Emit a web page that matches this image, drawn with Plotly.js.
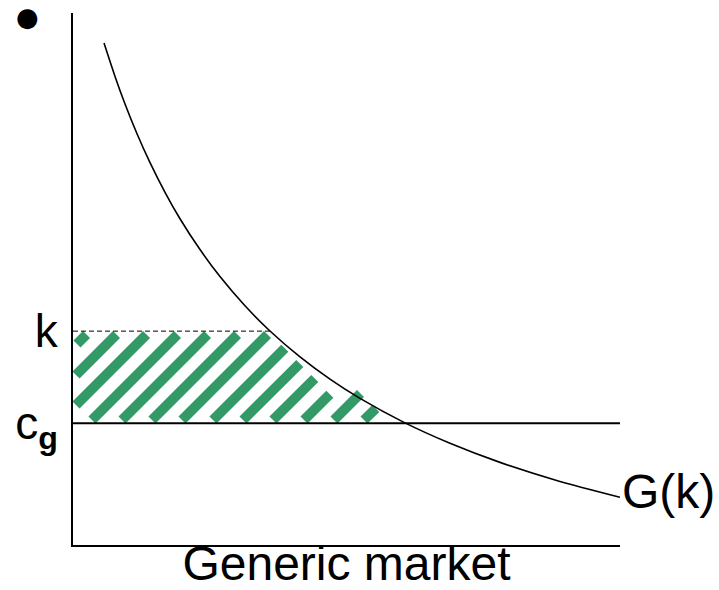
<!DOCTYPE html>
<html>
<head>
<meta charset="utf-8">
<script src="https://cdn.plot.ly/plotly-3.0.1.min.js"></script>
<style>html,body{margin:0;padding:0;background:#fff;}#chart{width:719px;height:590px;}</style>
</head>
<body>
<div id="chart"></div>
<script>
// G(k) curve (x: share of generic market axis, y: price level)
const curveX = [5.67, 7.68, 9.51, 11.70, 14.08, 16.82, 19.56, 23.22, 26.87, 31.44, 36.01, 41.50, 46.98, 52.47, 60.51, 68.92, 78.06, 89.03, 100];
const curveY = [94.36, 88.08, 82.91, 77.31, 71.88, 66.30, 61.33, 55.53, 50.45, 44.96, 40.23, 35.36, 31.18, 27.56, 23.05, 19.12, 15.53, 11.95, 8.98];

// price levels
const kLevel = 40.2;
const cgLevel = 22.9;
const kMeetsCurveX = 36.0;

// hatch stripes (start and end of each stripe)
const stripeX0 = [0.73, 0.55, 0.55, 3.47, 8.96, 14.44, 19.93, 25.59, 31.08, 36.56, 42.23, 47.71, 53.20];
const stripeY0 = [37.78, 31.95, 26.32, 23.50, 23.50, 23.50, 23.50, 23.50, 23.50, 23.50, 23.50, 23.50, 23.50];
const stripeX1 = [2.47, 7.95, 13.44, 19.10, 24.59, 30.07, 35.56, 38.72, 41.46, 44.20, 46.95, 52.56, 55.36];
const stripeY1 = [39.57, 39.57, 39.57, 39.57, 39.57, 39.57, 39.57, 36.99, 34.12, 31.30, 28.35, 28.48, 25.66];

// labels
const yTickVals = [cgLevel, kLevel];
const yTickText = ['c<sub><b>g</b></sub>', 'k'];
const xTitle = 'Generic market';
const curveLabel = 'G(k)';
const bulletText = '●';

const FONT = 'Liberation Sans, Arial, Helvetica, sans-serif';
const GREEN = 'rgb(51,153,102)';

const traces = [];
for (let i = 0; i < stripeX0.length; i++) {
  traces.push({
    type: 'scatter', mode: 'lines',
    x: [stripeX0[i], stripeX1[i]], y: [stripeY0[i], stripeY1[i]],
    line: {color: GREEN, width: 10}, hoverinfo: 'skip'
  });
}
traces.push({type: 'scatter', mode: 'lines', x: [0, 100], y: [cgLevel, cgLevel],
  line: {color: 'black', width: 2}, hoverinfo: 'skip'});
traces.push({type: 'scatter', mode: 'lines', x: [0, kMeetsCurveX], y: [kLevel, kLevel],
  line: {color: 'black', width: 1, dash: '5px,3px'}, hoverinfo: 'skip'});
traces.push({type: 'scatter', mode: 'lines', x: curveX, y: curveY,
  line: {color: 'black', width: 1.6, shape: 'spline', smoothing: 0.6}, hoverinfo: 'skip'});

const layout = {
  width: 719, height: 590,
  margin: {l: 73, r: 99, t: 13, b: 45},
  paper_bgcolor: 'white', plot_bgcolor: 'white',
  showlegend: false,
  font: {family: FONT, color: 'black'},
  xaxis: {
    range: [0, 100], showline: true, linewidth: 2, linecolor: 'black',
    showgrid: false, zeroline: false, ticks: '', showticklabels: false,
    title: {text: xTitle, font: {size: 48, family: FONT, color: 'black'}, standoff: 0}
  },
  yaxis: {
    range: [0, 100], showline: true, linewidth: 2, linecolor: 'black',
    showgrid: false, zeroline: false, ticks: '',
    tickvals: yTickVals, ticktext: yTickText, ticklabelstandoff: 4,
    tickfont: {size: 46, family: FONT, color: 'black'}
  },
  annotations: [
    {xref: 'paper', yref: 'paper', x: 1.0, y: 0.1015, xanchor: 'left', yanchor: 'middle',
     text: curveLabel, showarrow: false, font: {size: 48, family: FONT, color: 'black'}},
    {xref: 'paper', yref: 'paper', x: -0.0823, y: 0.9925, xanchor: 'center', yanchor: 'middle',
     text: bulletText, showarrow: false, font: {size: 26, family: 'DejaVu Sans', color: 'black'}}
  ]
};

Plotly.newPlot('chart', traces, layout, {displayModeBar: false, staticPlot: true});
</script>
</body>
</html>
